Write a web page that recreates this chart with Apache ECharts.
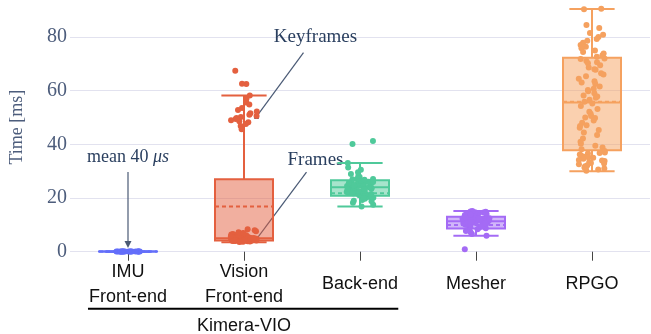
<!DOCTYPE html>
<html>
<head>
<meta charset="utf-8">
<script src="https://cdn.jsdelivr.net/npm/echarts@6/dist/echarts.min.js"></script>
<style>
  html, body { margin: 0; padding: 0; background: #fff; }
  #main { width: 651px; height: 334px; }
</style>
</head>
<body>
<div id="main"></div>
<script>
// ---------------- data ----------------
const categories = ['IMU\nFront-end', 'Vision\nFront-end', 'Back-end', 'Mesher', 'RPGO'];
const yTicks = [0, 20, 40, 60, 80];

// box statistics (ms), one entry per category
const boxLow  = [0.01, 3.5, 16.8, 5.9, 30.0];
const boxQ1   = [0.03, 4.2, 20.8, 8.6, 37.8];
const boxMed  = [0.04, 5.0, 24.0, 11.3, 55.6];
const boxQ3   = [0.05, 27.0, 26.6, 13.0, 72.3];
const boxHigh = [0.07, 58.2, 33.0, 15.2, 90.4];
const boxMean = [0.04, 16.8, 21.8, 9.9, 55.9];

// individual samples (ms)
const imuPoints = [0.03, 0.04, 0.05, 0.04, 0.03, 0.06, 0.04, 0.05, 0.04, 0.03,
  0.05, 0.04, 0.02, 0.06, 0.04, 0.05, 0.03, 0.04];
const visionPoints = [
  3.6, 3.8, 4.0, 4.1, 4.2, 4.3, 4.4, 4.5, 4.6, 4.7,
  3.9, 4.2, 4.4, 4.6, 4.8, 5.0, 5.2, 4.3, 4.5, 4.9,
  5.1, 5.3, 5.5, 5.8, 6.0, 4.0, 4.4, 4.7, 5.0, 5.4,
  3.7, 4.1, 4.5, 4.8, 5.2, 5.6, 6.2, 6.6, 7.0, 7.6,
  4.2, 4.6, 5.0, 5.5, 6.0, 6.4, 7.2, 8.0, 8.4, 4.8,
  3.8, 4.3, 4.9, 5.3, 5.7, 6.1, 6.8, 5.1, 4.4, 4.0,
  58.2, 57.0, 55.6, 54.8, 53.5, 52.8, 52.2, 51.6, 51.0, 50.6,
  50.2, 49.8, 49.4, 49.0, 48.6, 48.2, 47.6, 46.8, 45.6,
  62.5, 62.6, 67.4];
const backendPoints = [
  16.8, 17.5, 18.2, 18.8, 19.3, 19.7, 20.1, 20.4, 20.7, 21.0,
  21.2, 21.4, 21.6, 21.8, 22.0, 22.2, 22.4, 22.6, 22.8, 23.0,
  23.1, 23.3, 23.5, 23.6, 23.8, 24.0, 24.1, 24.3, 24.5, 24.6,
  24.8, 25.0, 25.1, 25.3, 25.5, 25.7, 25.9, 26.1, 26.3, 26.5,
  26.8, 27.1, 27.4, 27.8, 28.3, 28.9, 29.6, 30.5, 31.4, 33.0,
  19.0, 20.0, 21.5, 22.5, 23.2, 23.9, 24.4, 25.2, 26.0, 27.0,
  22.1, 23.4, 24.7, 21.9, 25.6,
  40.1, 41.2];
const mesherPoints = [
  5.9, 6.6, 7.2, 7.7, 8.1, 8.4, 8.7, 8.9, 9.1, 9.3,
  9.5, 9.7, 9.9, 10.0, 10.2, 10.4, 10.5, 10.7, 10.9, 11.0,
  11.2, 11.3, 11.5, 11.6, 11.8, 11.9, 12.1, 12.2, 12.4, 12.6,
  12.8, 13.0, 13.2, 13.5, 13.8, 14.1, 14.4, 14.7, 15.0, 15.2,
  10.1, 10.8, 11.4, 12.0, 12.5, 13.3, 14.0, 14.6, 11.7, 12.3,
  13.1, 13.7, 14.3, 14.9, 9.6, 10.6, 11.1, 12.7, 13.9, 14.5,
  0.9];
const rpgoPoints = [
  90.3, 90.5, 84.5, 83.3, 81.5, 80.8, 80.0, 79.2, 78.6, 77.8,
  77.0, 76.4, 75.8, 75.0, 74.4, 73.8, 73.2, 72.6, 71.8, 71.0,
  70.2, 69.5, 68.6, 67.8,
  72.0, 70.6, 68.0, 66.5, 65.4, 64.4, 63.5, 62.5, 61.5, 60.7,
  59.8, 59.0, 58.2, 57.4, 56.6, 55.9, 63.0, 60.2, 57.8, 66.0,
  55.2, 54.3, 53.2, 52.1, 51.4, 50.6, 49.8, 48.9, 48.0, 47.1,
  46.2, 45.3, 44.4, 43.5, 42.2, 41.0, 40.2, 39.5, 38.8, 38.2, 50.0, 46.8,
  37.5, 37.0, 36.6, 36.2, 35.8, 35.4, 35.0, 34.6, 34.2, 33.8,
  33.4, 33.0, 32.6, 32.2, 31.8, 31.4, 31.0, 30.6, 30.2, 36.8,
  35.2, 34.0, 32.9, 31.6];
const pointSets = [imuPoints, visionPoints, backendPoints, mesherPoints, rpgoPoints];

// annotations: anchor in data space, offsets in pixels
const annotations = [
  { label: 'mean', cat: 0, value: 1.4 },
  { label: 'Keyframes', cat: 1, value: 50.3 },
  { label: 'Frames', cat: 1, value: 4.7 }
];

// ---------------- style ----------------
const colors = ['#636EFA', '#E4603F', '#4FC99A', '#A46BF5', '#F5A15F'];
const fills  = ['rgba(99,110,250,0.5)', 'rgba(228,96,63,0.5)', 'rgba(79,201,154,0.5)',
                'rgba(164,107,245,0.5)', 'rgba(245,161,95,0.5)'];
const annLayout = {
  mean:      { dx: 0,    tx: 0,  ty: -91, ax: 0,  ay: -76, head: 'arrow' },
  Keyframes: { dx: 12.5, tx: 59, ty: -80, ax: 47, ay: -64, head: 'square' },
  Frames:    { dx: 12.5, tx: 59, ty: -79, ax: 50, ay: -67, head: 'square' }
};
const serif = '"Liberation Serif", "DejaVu Serif", serif';
const sans = '"Liberation Sans", Arial, sans-serif';
const annColor = '#2a3f5f';

const chart = echarts.init(document.getElementById('main'), null, { renderer: 'canvas' });

function renderBox(params, api) {
  const i = api.value(0);
  const xc = api.coord([i, 0])[0];
  const band = api.size([1, 0])[0];
  const half = band * 0.25, capHalf = band * 0.195;
  const y = v => api.coord([i, v])[1];
  const low = api.value(1), q1 = api.value(2), med = api.value(3),
        q3 = api.value(4), high = api.value(5), mean = api.value(6);
  const c = colors[i];
  const ls = { stroke: c, lineWidth: 2, fill: null };
  return {
    type: 'group',
    children: [
      { type: 'line', shape: { x1: xc, y1: y(q3), x2: xc, y2: y(high) }, style: ls },
      { type: 'line', shape: { x1: xc, y1: y(q1), x2: xc, y2: y(low) }, style: ls },
      { type: 'line', shape: { x1: xc - capHalf, y1: y(high), x2: xc + capHalf, y2: y(high) }, style: ls },
      { type: 'line', shape: { x1: xc - capHalf, y1: y(low), x2: xc + capHalf, y2: y(low) }, style: ls },
      { type: 'rect', shape: { x: xc - half, y: y(q3), width: 2 * half, height: y(q1) - y(q3) },
        style: { fill: fills[i], stroke: c, lineWidth: 2 } },
      { type: 'line', shape: { x1: xc - half, y1: y(med), x2: xc + half, y2: y(med) }, style: ls },
      { type: 'line', shape: { x1: xc - half, y1: y(mean), x2: xc + half, y2: y(mean) },
        style: { stroke: c, lineWidth: 2, lineDash: [4, 3], fill: null } }
    ]
  };
}

const series = [{
  type: 'custom',
  renderItem: renderBox,
  z: 1,
  silent: true,
  encode: { x: 0, y: [1, 2, 3, 4, 5, 6] },
  data: categories.map((_, i) => [i, boxLow[i], boxQ1[i], boxMed[i], boxQ3[i], boxHigh[i], boxMean[i]])
}];
pointSets.forEach((pts, i) => {
  series.push({
    type: 'scatter',
    z: 3,
    symbolSize: 6,
    itemStyle: { color: colors[i], opacity: 1 },
    data: pts.map(v => [i, v])
  });
});

chart.setOption({
  animation: false,
  backgroundColor: '#fff',
  grid: { left: 70, right: 1, top: 1, bottom: 80.7, containLabel: false, outerBoundsMode: 'none' },
  xAxis: {
    type: 'category',
    data: categories,
    boundaryGap: true,
    jitter: 27,
    jitterOverlap: true,
    axisLine: { show: false },
    axisTick: { show: true, alignWithLabel: true, length: 9, lineStyle: { color: '#444', width: 1 } },
    axisLabel: { color: '#111', fontFamily: sans, fontSize: 18, lineHeight: 25,
                 verticalAlign: 'middle', margin: 31, interval: 0 },
    splitLine: { show: false }
  },
  yAxis: {
    type: 'value',
    min: -0.6,
    max: 93.4,
    name: 'Time [ms]',
    nameLocation: 'middle',
    nameGap: 44,
    nameTextStyle: { fontFamily: serif, fontSize: 18, color: '#4d5d7c' },
    axisLine: { show: false },
    axisTick: { show: false, customValues: yTicks },
    axisLabel: { customValues: yTicks, fontFamily: serif, fontSize: 20, color: '#4d5d7c', margin: 3 },
    splitLine: { show: true, lineStyle: { color: '#e2e2ef', width: 1.2 } }
  },
  series: series
});

// ----- annotations and group bracket, anchored via the chart's own scales -----
function px(cat, v) { return chart.convertToPixel({ gridIndex: 0 }, [cat, v]); }
const graphics = [];
annotations.forEach(a => {
  const L = annLayout[a.label];
  const p = px(a.cat, a.value);
  const hx = p[0] + L.dx, hy = p[1];
  const tx = hx + L.ax, ty = hy + L.ay;
  if (L.head === 'arrow') {
    graphics.push({ type: 'line', shape: { x1: tx, y1: ty, x2: hx, y2: hy - 5 },
      style: { stroke: '#4a5a75', lineWidth: 1.2 } });
    graphics.push({ type: 'polygon', shape: { points: [[hx - 3.5, hy - 7], [hx + 3.5, hy - 7], [hx, hy]] },
      style: { fill: '#4a5a75' } });
    graphics.push({ type: 'text', x: hx + L.tx, y: hy + L.ty,
      style: { text: '{n|mean 40 }{i|μs}', align: 'center', verticalAlign: 'middle',
        rich: { n: { fontFamily: serif, fontSize: 18, fill: annColor, color: annColor },
                i: { fontFamily: serif, fontSize: 18, fontStyle: 'italic', fill: annColor, color: annColor } } } });
  } else {
    graphics.push({ type: 'line', shape: { x1: tx, y1: ty, x2: hx, y2: hy },
      style: { stroke: '#4a5a75', lineWidth: 1.2 } });
    graphics.push({ type: 'rect', shape: { x: hx - 2.2, y: hy - 2.2, width: 4.4, height: 4.4 },
      style: { fill: annColor } });
    graphics.push({ type: 'text', x: hx + L.tx, y: hy + L.ty,
      style: { text: a.label, align: 'center', verticalAlign: 'middle',
        fontFamily: serif, fontSize: 19, fill: annColor } });
  }
});
// Kimera-VIO bracket under the first three categories
const bandW = px(1, 0)[0] - px(0, 0)[0];
const baseY = px(0, 0)[1];
const xL = px(0, 0)[0] - 0.345 * bandW, xR = px(2, 0)[0] + 0.33 * bandW;
graphics.push({ type: 'line', shape: { x1: xL, y1: baseY + 57, x2: xR, y2: baseY + 57 },
  style: { stroke: '#000', lineWidth: 2 } });
graphics.push({ type: 'text', x: px(1, 0)[0], y: baseY + 74,
  style: { text: 'Kimera-VIO', align: 'center', verticalAlign: 'middle',
    fontFamily: sans, fontSize: 18, fill: '#111' } });
chart.setOption({ graphic: graphics });
</script>
</body>
</html>
